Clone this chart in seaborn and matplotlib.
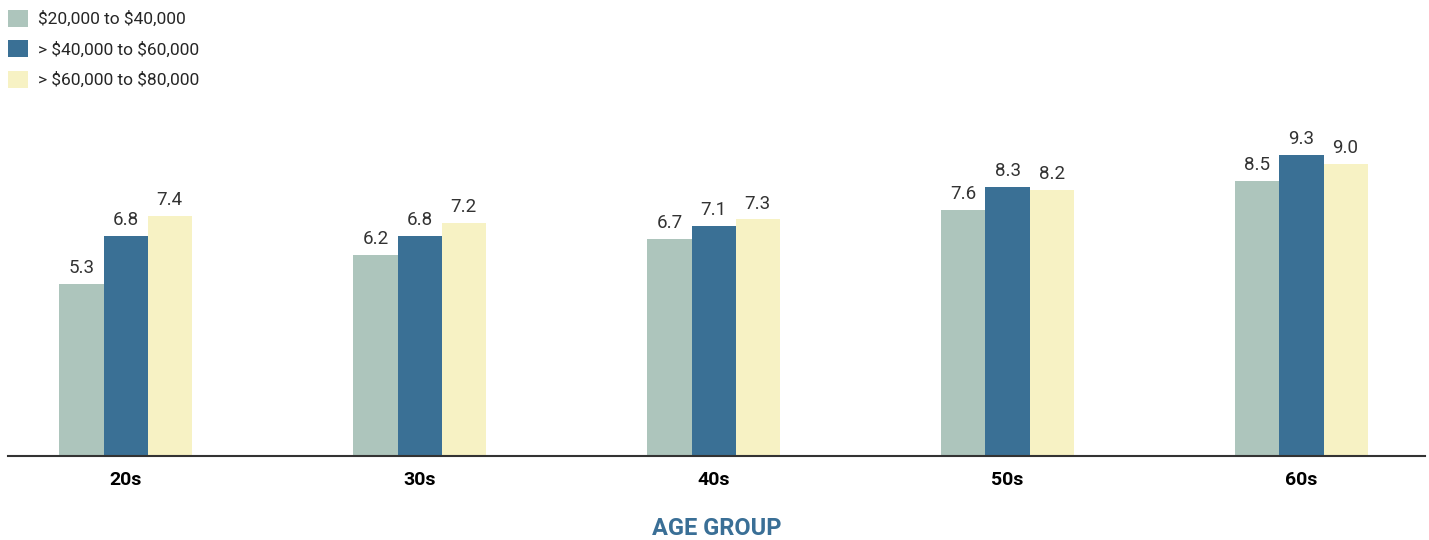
import pandas as pd
import seaborn as sns
import matplotlib.pyplot as plt

sns.set_style('white')
plt.rcParams['font.family'] = ['Roboto', 'DejaVu Sans']

age_groups = ['20s', '30s', '40s', '50s', '60s']
incomes = [r'\$20,000 to \$40,000', r'> \$40,000 to \$60,000', r'> \$60,000 to \$80,000']
low = [5.3, 6.2, 6.7, 7.6, 8.5]
mid = [6.8, 6.8, 7.1, 8.3, 9.3]
high = [7.4, 7.2, 7.3, 8.2, 9.0]
colors = ['#adc5bc', '#3a7095', '#f7f2c4']

df = pd.DataFrame({
    'age': age_groups * 3,
    'income': [incomes[0]] * 5 + [incomes[1]] * 5 + [incomes[2]] * 5,
    'value': low + mid + high,
})

fig = plt.figure(figsize=(14.29, 5.4), dpi=100)
ax = fig.add_axes([0.0056, 0.1556, 0.9916, 0.6])

sns.barplot(data=df, x='age', y='value', hue='income', palette=colors,
            width=0.45, gap=0, saturation=1, ax=ax, errorbar=None, linewidth=0)

for c in ax.containers:
    ax.bar_label(c, fmt='%.1f', padding=5, fontsize=13.5, color='#333333')

ax.set_ylim(0, 10)
ax.set_xlim(-0.4, 4.42)
ax.set_yticks([])
ax.set_ylabel('')
ax.set_xlabel('AGE GROUP', fontsize=17, fontweight='bold', color='#3a6f96', labelpad=20)
for s in ['top', 'right', 'left']:
    ax.spines[s].set_visible(False)
ax.spines['bottom'].set_color('#333333')
ax.spines['bottom'].set_linewidth(1.5)
ax.tick_params(axis='x', length=0, pad=11, labelsize=14)
for t in ax.get_xticklabels():
    t.set_fontweight('bold')
    t.set_color('black')

h, l = ax.get_legend_handles_labels()
ax.legend(h, l, loc='upper left', bbox_to_anchor=(0.0056, 0.982), bbox_transform=fig.transFigure,
          frameon=False, fontsize=12.5, handlelength=1.15, handleheight=1.15,
          handletextpad=0.6, labelspacing=0.75, borderaxespad=0, borderpad=0)

fig.savefig('out.png', dpi=100)
